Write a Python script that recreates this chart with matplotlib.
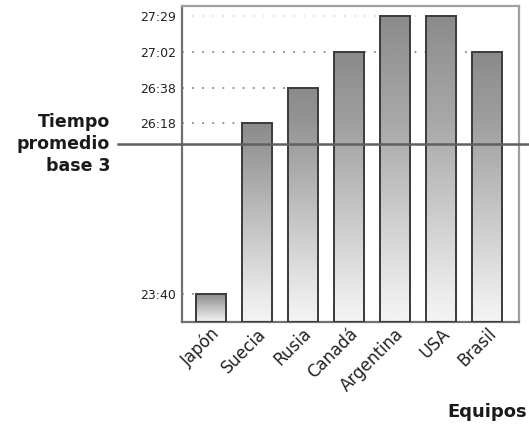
import numpy as np
import matplotlib
matplotlib.use("Agg")
import matplotlib.pyplot as plt
from matplotlib.scale import FuncScale
from matplotlib.lines import Line2D
import matplotlib.transforms as mtransforms

# ---- data ----
teams = ["Japón", "Suecia", "Rusia", "Canadá", "Argentina", "USA", "Brasil"]
times = ["23:40", "26:18", "26:38", "27:02", "27:29", "27:29", "27:02"]
base_time = "25:59"            # "Tiempo promedio base 3" reference line
tick_labels = ["23:40", "26:18", "26:38", "27:02", "27:29"]

def to_sec(s):
    m, ss = s.split(":")
    return int(m) * 60 + int(ss)

values = np.array([to_sec(t) for t in times], dtype=float)
tick_vals = np.array([to_sec(t) for t in tick_labels], dtype=float)
base_val = to_sec(base_time)

# The original axis is not linear in time: tick levels are spread unevenly.
# Map time -> axis position through the tick anchors.
anchor_t = np.array([1400, 1420, 1578, 1598, 1622, 1649, 1660], dtype=float)
anchor_p = np.array([0, 28, 199, 234, 270, 306, 316], dtype=float)

def fwd(t):
    return np.interp(t, anchor_t, anchor_p)

def inv(p):
    return np.interp(p, anchor_p, anchor_t)

W, H = 529, 425
fig = plt.figure(figsize=(W / 100, H / 100), dpi=100)
ax = fig.add_axes([182 / W, 1 - 322 / H, (519 - 182) / W, (322 - 6) / H])
ax.set_yscale(FuncScale(ax, (fwd, inv)))
ymin, ymax = 1400, 1660

x = np.arange(len(teams))
width = 0.65
bars = ax.bar(x, values - ymin, bottom=ymin, width=width, color="none",
              edgecolor="#3a3a3a", linewidth=1.4, zorder=3)

# per-bar vertical gradient (dark top -> light bottom)
grad = np.linspace(0, 1, 256).reshape(-1, 1)
cmap = matplotlib.colors.LinearSegmentedColormap.from_list("g", ["#f4f4f4", "#8a8a8a"])
for xi, v, b in zip(x, values, bars):
    im = ax.imshow(grad, extent=(xi - width / 2, xi + width / 2, ymin, v),
                   origin="lower", aspect="auto", cmap=cmap, zorder=2,
                   interpolation="bicubic")
    im.set_clip_path(b)
ax.set_aspect("auto")
ax.set_xlim(-0.62, 6.7)
ax.set_ylim(ymin, ymax)

# dotted guide lines from the axis to the bar of each level
for tv in tick_vals:
    idx = np.where(values == tv)[0][-1]
    col = "#e2e2e2" if tv == tick_vals.max() else "#8a8a8a"
    ax.plot([-0.62, x[idx] - width / 2], [tv, tv], linestyle=(0, (1, 4.6)),
            color=col, linewidth=1.3, zorder=1)

ax.set_yticks(tick_vals)
ax.set_yticklabels(tick_labels, fontsize=9, family="DejaVu Sans", color="#222222")
ax.tick_params(axis="y", length=0, pad=4)
ax.set_xticks(x)
ax.set_xticklabels(teams, rotation=45, ha="right", va="top", rotation_mode="anchor",
                   fontsize=12, family="DejaVu Sans", color="#222222")
ax.tick_params(axis="x", length=0, pad=2)

for side in ["left", "bottom"]:
    ax.spines[side].set_color("#707070")
    ax.spines[side].set_linewidth(1.6)
for side in ["top", "right"]:
    ax.spines[side].set_color("#a0a0a0")
    ax.spines[side].set_linewidth(1.6)

# reference line extending beyond the axes
trans = mtransforms.blended_transform_factory(fig.transFigure, ax.transData)
ax.add_line(Line2D([118 / W, 1.0], [base_val, base_val], transform=trans,
                   color="#606060", linewidth=1.8, clip_on=False, zorder=5))
fig.text(110 / W, 1 - 144 / H, "Tiempo\npromedio\nbase 3", ha="right", va="center",
         fontsize=12.5, fontweight="bold", family="DejaVu Sans", linespacing=1.28,
         color="#1a1a1a")

fig.text(527 / W, 1 - 412 / H, "Equipos", ha="right", va="center",
         fontsize=13, fontweight="bold", family="DejaVu Sans", color="#1a1a1a")

fig.savefig("out.png", dpi=100)
